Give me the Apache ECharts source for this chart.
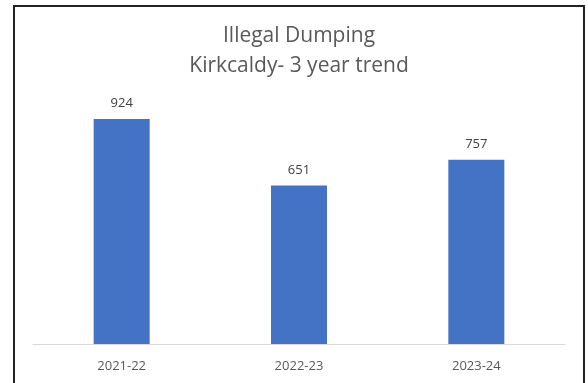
<!DOCTYPE html>
<html>
<head>
<meta charset="utf-8">
<script src="https://cdn.jsdelivr.net/npm/echarts@6/dist/echarts.min.js"></script>
<style>
  html, body { margin: 0; padding: 0; width: 588px; height: 383px; overflow: hidden; background: #fff; }
  #frame { position: absolute; left: 13px; top: 5px; width: 572px; height: 420px; border: 2px solid #222; box-sizing: border-box; }
  #main { width: 568px; height: 416px; }
</style>
</head>
<body>
<div id="frame"><div id="main"></div></div>
<script>
// data
const categories = ['2021-22', '2022-23', '2023-24'];
const values = [924, 651, 757];
const titleLines = ['Illegal Dumping', 'Kirkcaldy- 3 year trend'];

const chart = echarts.init(document.getElementById('main'));

const option = {
  animation: false,
  title: {
    text: titleLines.join('\n'),
    left: 'center',
    top: 9,
    textStyle: {
      fontFamily: 'Open Sans',
      fontSize: 21,
      fontWeight: 'normal',
      color: '#595959',
      lineHeight: 30
    }
  },
  grid: {
    left: 18,
    right: 18,
    top: 93.5,
    bottom: 79
  },
  xAxis: {
    type: 'category',
    data: categories,
    axisLine: { lineStyle: { color: '#d9d9d9', width: 1 } },
    axisTick: { show: false },
    axisLabel: {
      margin: 16,
      fontFamily: 'Open Sans',
      fontSize: 13,
      color: '#595959'
    }
  },
  yAxis: {
    type: 'value',
    min: 0,
    max: 1000,
    show: false,
    splitLine: { show: false }
  },
  series: [{
    type: 'bar',
    data: values,
    barWidth: 56,
    itemStyle: { color: '#4472c4' },
    label: {
      show: true,
      position: 'top',
      distance: 9,
      fontFamily: 'Open Sans',
      fontSize: 13,
      color: '#404040'
    }
  }]
};

chart.setOption(option);
</script>
</body>
</html>
